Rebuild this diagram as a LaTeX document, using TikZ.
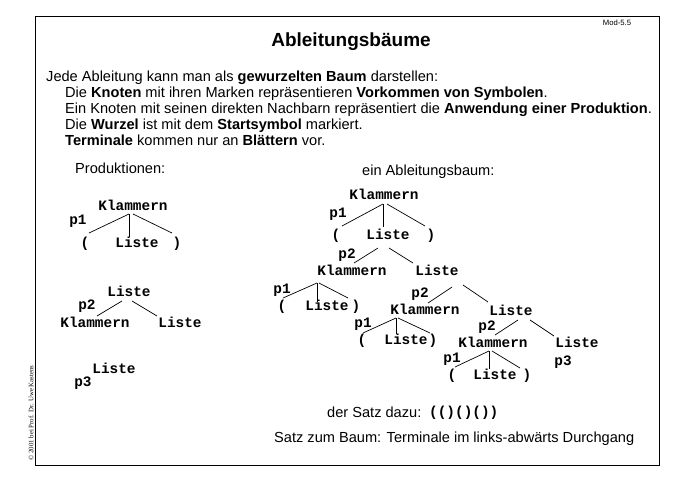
\documentclass[tikz,border=0pt]{standalone}
\usepackage{fontspec}
\setmainfont{Liberation Sans}
\newfontfamily\monof{Liberation Mono}
\newfontfamily\seriff{Liberation Serif}
\usetikzlibrary{calc}
\newcommand\edg[4]{\draw[tr] ($(#1)+(#2)$) -- ($(#3)+(#4)$);}
\begin{document}
\begin{tikzpicture}[x=1pt,y=-1pt,
  sym/.style={font=\monof\bfseries\fontsize{14.4}{16}\selectfont, inner sep=0pt, text height=8pt, text depth=0pt, anchor=center},
  tr/.style={line width=0.7pt},
  txt/.style={font=\fontsize{14.6}{16}\selectfont, inner sep=0pt, anchor=base west},
  frame/.style={line width=0.9pt}]
\useasboundingbox (0,0) rectangle (678,480);
\draw[frame] (35,16) rectangle (659,465);
\node[inner sep=0pt, anchor=base, font=\fontsize{7.7}{9}\selectfont] (mod) at (617,25) {Mod-5.5};
\node[inner sep=0pt, anchor=base, font=\bfseries\fontsize{19}{22}\selectfont] (title) at (351,46) {Ableitungsbäume};
\node[txt] (l1) at (46,81) {Jede Ableitung kann man als \textbf{gewurzelten Baum} darstellen:};
\node[txt] (l2) at (65,97) {Die \textbf{Knoten} mit ihren Marken repräsentieren \textbf{Vorkommen von Symbolen}.};
\node[txt] (l3) at (65,113) {Ein Knoten mit seinen direkten Nachbarn repräsentiert die \textbf{Anwendung einer Produktion}.};
\node[txt] (l4) at (65,129) {Die \textbf{Wurzel} ist mit dem \textbf{Startsymbol} markiert.};
\node[txt] (l5) at (65,145) {\textbf{Terminale} kommen nur an \textbf{Blättern} vor.};
\node[txt] (prod) at (75,173) {Produktionen:};
\node[txt] (abl) at (362,175) {ein Ableitungsbaum:};
% left tree 1
\node[sym] (A1) at (133,206) {Klammern};
\node[sym] (A1p) at (85,243) {(};
\node[sym] (A1l) at (137,243) {Liste};
\node[sym] (A1r) at (177,243) {)};
\node[sym] (A1n) at (78,220) {p1};
\edg{A1}{-4,8}{A1p}{4,-10}
\edg{A1}{-4,8}{A1l}{-8,-6}
\edg{A1}{0,8}{A1r}{-5,-10}
% left tree 2
\node[sym] (B1) at (129,292) {Liste};
\node[sym] (B1k) at (95,323) {Klammern};
\node[sym] (B1l) at (180,323) {Liste};
\node[sym] (B1n) at (87,305) {p2};
\edg{B1}{-7,9}{B1k}{2,-7}
\edg{B1}{3,9}{B1l}{-23,-7}
% left tree 3
\node[sym] (C1) at (114,369) {Liste};
\node[sym] (C1n) at (83,382) {p3};
% right tree
\node[sym] (R) at (384,195) {Klammern};
\node[sym] (Rp) at (336,235) {(};
\node[sym] (Rl) at (388,235) {Liste};
\node[sym] (Rr) at (431,235) {)};
\node[sym] (Rn) at (338,213) {p1};
\edg{R}{-1,9}{Rp}{6,-9}
\edg{R}{-1,9}{Rl}{-5,-8}
\edg{R}{3,9}{Rr}{-6,-9}
\node[sym] (K2) at (352,271) {Klammern};
\node[sym] (L2) at (437,271) {Liste};
\node[sym] (Rln) at (347,254) {p2};
\edg{Rl}{-10,13}{K2}{2,-8}
\edg{Rl}{1,13}{L2}{-24,-8}
\node[sym] (K2p) at (282,306) {(};
\node[sym] (K2l) at (327,306) {Liste};
\node[sym] (K2r) at (356,306) {)};
\node[sym] (K2n) at (282,289) {p1};
\edg{K2}{-35,12}{K2p}{1,-8}
\edg{K2}{-35,12}{K2l}{-10,-4}
\edg{K2}{-33,12}{K2r}{-8,-8}
\node[sym] (K3) at (425,310) {Klammern};
\node[sym] (L4) at (511,311) {Liste};
\node[sym] (L2n) at (420,293) {p2};
\edg{L2}{15,16}{K3}{3,-7}
\edg{L2}{26,14}{L4}{-23,-9}
\node[sym] (K3p) at (362,340) {(};
\node[sym] (K3l) at (406,340) {Liste};
\node[sym] (K3r) at (433,340) {)};
\node[sym] (K3n) at (363,323) {p1};
\edg{K3}{-29,8}{K3p}{1,-7}
\edg{K3}{-29,8}{K3l}{-10,-6}
\edg{K3}{-27,8}{K3r}{-3,-7}
\node[sym] (K4) at (493,343) {Klammern};
\node[sym] (L5) at (577,343) {Liste};
\node[sym] (L4n) at (487,326) {p2};
\edg{L4}{7,9}{K4}{2,-8}
\edg{L4}{19,9}{L5}{-23,-7}
\node[sym] (K4p) at (452,375) {(};
\node[sym] (K4l) at (495,375) {Liste};
\node[sym] (K4r) at (527,375) {)};
\node[sym] (K4n) at (452,358) {p1};
\edg{K4}{-4,8}{K4p}{3,-8}
\edg{K4}{-4,8}{K4l}{-6,-6}
\edg{K4}{-1,8}{K4r}{-7,-7}
\node[sym] (L5n) at (563,361) {p3};
% bottom
\node[txt] (satz) at (327,417) {der Satz dazu:};
\node[sym, anchor=west] (satzv) at (429,412) {(()()())};
\node[txt] (baum) at (274,442) {Satz zum Baum: Terminale im links-abwärts Durchgang};
\node[inner sep=0pt, rotate=90, font=\seriff\fontsize{6.8}{8}\selectfont] (copy) at (31,413) {© 2001 bei Prof. Dr. Uwe Kastens};
\end{tikzpicture}
\end{document}
